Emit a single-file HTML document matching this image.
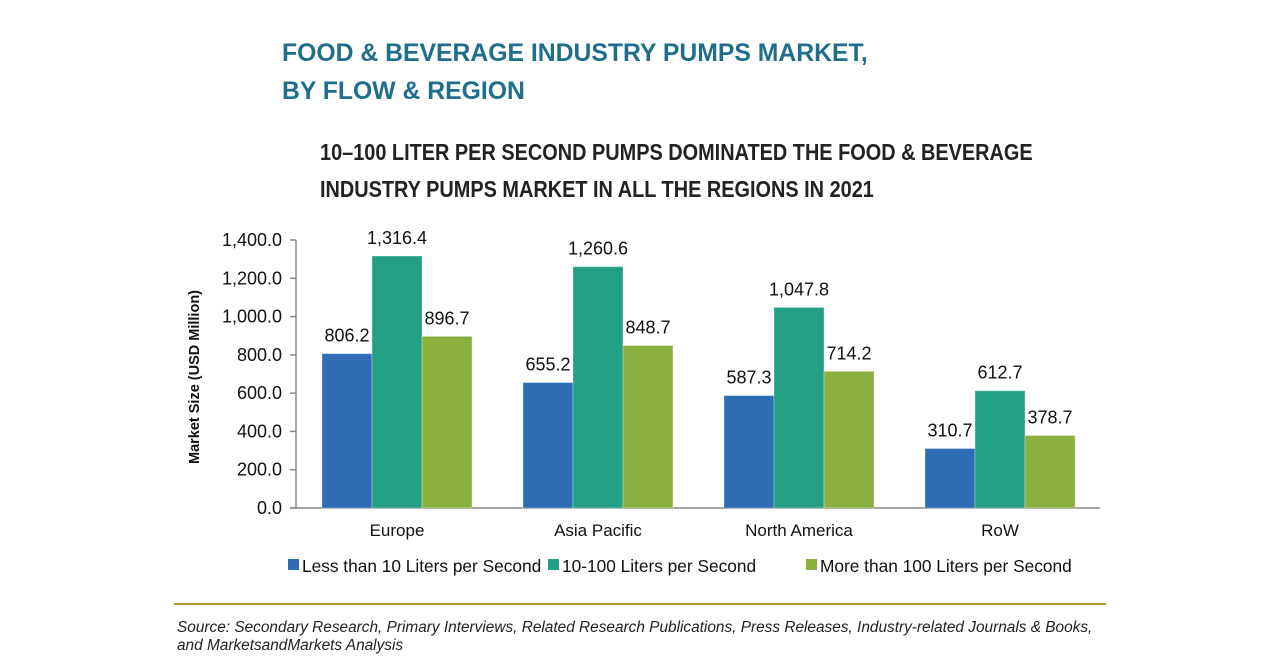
<!DOCTYPE html>
<html><head><meta charset="utf-8"><style>
body{margin:0;width:1280px;height:670px;background:#fff;font-family:"Liberation Sans",sans-serif;position:relative;overflow:hidden}
.t{position:absolute;white-space:nowrap}
</style></head><body>
<div class="t" style="left:282px;top:34px;font-size:25px;line-height:38px;color:#1f6e8c;font-weight:bold;transform:scaleX(0.99);transform-origin:left">FOOD &amp; BEVERAGE INDUSTRY PUMPS MARKET,<br>BY FLOW &amp; REGION</div>
<div class="t" style="left:320px;top:134px;font-size:23px;line-height:37px;color:#222;font-weight:bold;transform:scaleX(0.865);transform-origin:left">10–100 LITER PER SECOND PUMPS DOMINATED THE FOOD &amp; BEVERAGE<br>INDUSTRY PUMPS MARKET IN ALL THE REGIONS IN 2021</div>
<svg id="chart" width="1280" height="670" style="position:absolute;left:0;top:0"></svg>
<div style="position:absolute;left:174px;top:603px;width:932px;height:2px;background:#b8963c"></div>
<div class="t" style="left:177px;top:619px;font-size:15.4px;line-height:18px;font-style:italic;color:#222">Source: Secondary Research, Primary Interviews, Related Research Publications, Press Releases, Industry-related Journals &amp; Books,<br>and MarketsandMarkets Analysis</div>
<script>
const categories=["Europe","Asia Pacific","North America","RoW"];
const seriesNames=["Less than 10 Liters per Second","10-100 Liters per Second","More than 100 Liters per Second"];
const lessThan10=[806.2,655.2,587.3,310.7];
const between10and100=[1316.4,1260.6,1047.8,612.7];
const moreThan100=[896.7,848.7,714.2,378.7];
const yTicks=[0,200,400,600,800,1000,1200,1400];
const colors=["#2e6db4","#23a084","#8bb040"];
const svg=document.getElementById('chart');
const NS="http://www.w3.org/2000/svg";
const x0=296,x1=1100,yBase=508,yTop=240,yMax=1400;
const y=v=>yBase-(v/yMax)*(yBase-yTop);
const gw=(x1-x0)/categories.length, bw=50, off=26;
function mk(t,a){const e=document.createElementNS(NS,t);for(const k in a)e.setAttribute(k,a[k]);svg.appendChild(e);return e;}
let e;
e=mk('line',{x1:x0,y1:yTop,x2:x0,y2:yBase,stroke:'#888','stroke-width':1.5});


e=mk('line',{x1:x0-6,y1:yBase,x2:x1,y2:yBase,stroke:'#888','stroke-width':1.5});


yTicks.forEach(v=>{
 const tk=mk('line',{x1:x0-6,y1:y(v),x2:x0,y2:y(v),stroke:'#888','stroke-width':1.5});
 
 
 const t=mk('text',{x:x0-14,y:y(v)+6,'text-anchor':'end','font-size':18,fill:'#111'});
 t.textContent=v.toLocaleString('en-US',{minimumFractionDigits:1});
 
 
});
const yt=mk('text',{x:0,y:0,transform:'translate(199,377) rotate(-90)','text-anchor':'middle','font-size':14.5,'font-weight':'bold',fill:'#111'});
yt.textContent="Market Size (USD Million)";


const series=[lessThan10,between10and100,moreThan100];
categories.forEach((c,i)=>{
 const gx=x0+i*gw+off;
 series.forEach((s,j)=>{
  const bx=gx+j*bw;
  const r=mk('rect',{x:bx,y:y(s[i]),width:bw,height:yBase-y(s[i]),fill:colors[j],stroke:'#ffffff','stroke-opacity':0.3});
  
  
  const t=mk('text',{x:bx+bw/2,y:y(s[i])-12,'text-anchor':'middle','font-size':18,fill:'#111'});
  t.textContent=s[i].toLocaleString('en-US',{minimumFractionDigits:1});
  
  
 });
 const ct=mk('text',{x:gx+1.5*bw,y:536,'text-anchor':'middle','font-size':17,fill:'#111'});
 ct.textContent=c;
 
 
});
const legX=[288,548,806];
seriesNames.forEach((n,j)=>{
 const r=mk('rect',{x:legX[j],y:559,width:11,height:11,fill:colors[j]});
 
 
 const t=mk('text',{x:legX[j]+14,y:572,'font-size':17.3,fill:'#111'});
 t.textContent=n;
 
 
});
</script>
</body></html>
